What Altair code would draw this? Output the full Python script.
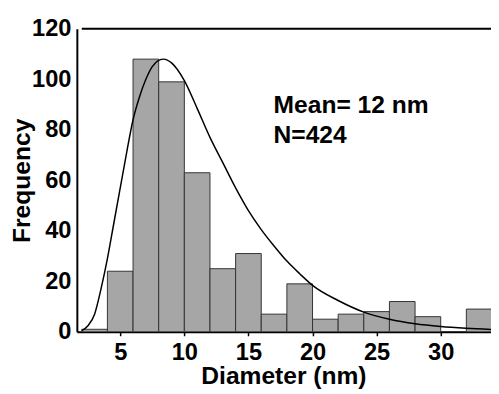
import altair as alt
import pandas as pd

# Histogram bins (nm) and counts
bin_left = [2, 4, 6, 8, 10, 12, 14, 16, 18, 20, 22, 24, 26, 28, 30, 32]
bin_right = [4, 6, 8, 10, 12, 14, 16, 18, 20, 22, 24, 26, 28, 30, 32, 34]
counts = [1, 24, 108, 99, 63, 25, 31, 7, 19, 5, 7, 8, 12, 6, 0, 9]

# Fitted distribution curve
curve_x = [2.0, 2.5, 3.0, 3.5, 4.0, 4.5, 5.0, 5.5, 6.0, 6.5, 7.0, 7.5, 8.0, 8.4, 9.0,
           10, 11, 12, 13, 14, 15, 16, 17, 18, 19, 20, 22, 24, 26, 28, 30, 32, 34]
curve_y = [0.5, 2.5, 7, 17, 29, 43, 57, 71, 84, 93, 100, 105, 107.5, 108, 106.5,
           99.5, 88.5, 77, 67, 57, 48, 40.5, 34, 28, 23, 18.4, 12.4, 7.8, 5.0, 3.2,
           2.1, 1.4, 0.9]

x_ticks = [5, 10, 15, 20, 25, 30]
y_ticks = [0, 20, 40, 60, 80, 100, 120]

annot = ["Mean= 12 nm", "N=424"]

FONT = "Liberation Sans"
W, H = 427, 308

hist = pd.DataFrame({"left": bin_left, "right": bin_right, "count": counts})
curve = pd.DataFrame({"d": curve_x, "f": curve_y})
one = pd.DataFrame({"k": [0]})

xscale = alt.Scale(domain=[2, 34], nice=False, zero=False)
yscale = alt.Scale(domain=[0, 120], nice=False)

x_axis = alt.Axis(values=x_ticks, grid=False, tickSize=4, tickWidth=1.5, tickColor="black",
                  domainColor="black", domainWidth=2, labelFont=FONT, labelFontSize=24,
                  labelFontWeight="bold", labelColor="black", labelPadding=5,
                  title="Diameter (nm)", titleFont=FONT, titleFontSize=25,
                  titleFontWeight="bold", titleColor="black", titleX=210, titleY=53,
                  titleBaseline="alphabetic", titleAlign="center")
y_axis = alt.Axis(values=y_ticks, grid=False, ticks=False, domainColor="black",
                  domainWidth=2, labelFont=FONT, labelFontSize=24, labelFontWeight="bold",
                  labelColor="black", labelPadding=6,
                  title="Frequency", titleFont=FONT, titleFontSize=25,
                  titleFontWeight="bold", titleColor="black", titleX=-48, titleY=H / 2,
                  titleAngle=-90, titleBaseline="alphabetic", titleAlign="center")

bars = alt.Chart(hist).mark_bar(color="#a6a6a6", stroke="#333333", strokeWidth=1,
                                clip=True, orient="vertical").encode(
    x=alt.X("left:Q", scale=xscale, axis=x_axis),
    x2="right:Q",
    y=alt.Y("count:Q", scale=yscale, axis=y_axis),
    y2=alt.datum(0),
)

line = alt.Chart(curve).mark_line(color="black", strokeWidth=1.5, interpolate="monotone",
                                  clip=True).encode(
    x=alt.X("d:Q", scale=xscale),
    y=alt.Y("f:Q", scale=yscale),
)

top = alt.Chart(one).mark_rule(color="black", strokeWidth=2).encode(
    x=alt.datum(2), x2=alt.datum(34), y=alt.datum(120)
)

t1 = alt.Chart(one).mark_text(text=annot[0], font=FONT, fontSize=25, fontWeight="bold",
                              align="left", baseline="alphabetic", color="black").encode(
    x=alt.value(200), y=alt.value(86)
)
t2 = alt.Chart(one).mark_text(text=annot[1], font=FONT, fontSize=25, fontWeight="bold",
                              align="left", baseline="alphabetic", color="black").encode(
    x=alt.value(200), y=alt.value(116)
)

chart = alt.layer(bars, line, top, t1, t2).properties(
    width=W, height=H,
    autosize=alt.AutoSizeParams(type="none"),
    padding={"left": 70, "top": 18, "right": -6, "bottom": 58},
).configure_view(stroke=None)

chart.save("out.html", embed_options={"renderer": "svg", "actions": False})
